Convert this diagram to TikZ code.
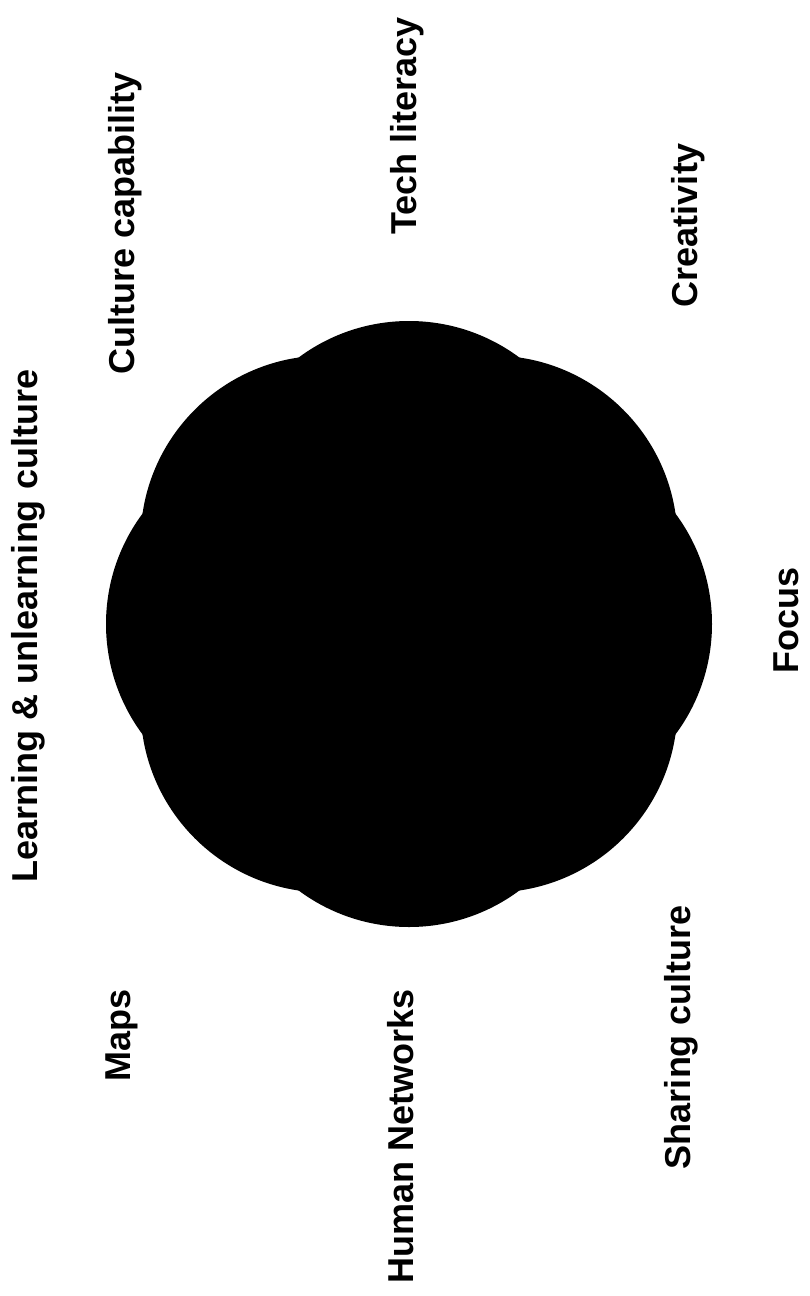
\documentclass[tikz,border=0pt]{standalone}
\usepackage{fontspec}
\setmainfont{Liberation Sans}
\usetikzlibrary{calc}

\begin{document}
\begin{tikzpicture}[x=1pt, y=-1pt,
    lbl/.style={rotate=90, inner sep=0pt, text height=0.73em, text depth=0.21em,
                font=\fontsize{36}{40}\selectfont\bfseries}]
    \useasboundingbox (0,0) rectangle (809,1296);

    % Flower of eight petals
    \coordinate (ctr) at (409,624);
    \foreach \a in {0,45,...,315} {
        \fill[black] ($(ctr)+(\a:118)$) circle (185pt);
    }

    % Labels round the flower
    \node[lbl] (learn)    at (35,626)   {Learning \& unlearning culture};
    \node[lbl] (culture)  at (132,223)  {Culture capability};
    \node[lbl] (tech)     at (414,126)  {Tech literacy};
    \node[lbl] (creative) at (695,225)  {Creativity};
    \node[lbl] (focus)    at (796,620)  {Focus};
    \node[lbl] (sharing)  at (688,1037) {Sharing culture};
    \node[lbl] (human)    at (411,1136) {Human Networks};
    \node[lbl] (maps)     at (128,1035) {Maps};
\end{tikzpicture}
\end{document}
